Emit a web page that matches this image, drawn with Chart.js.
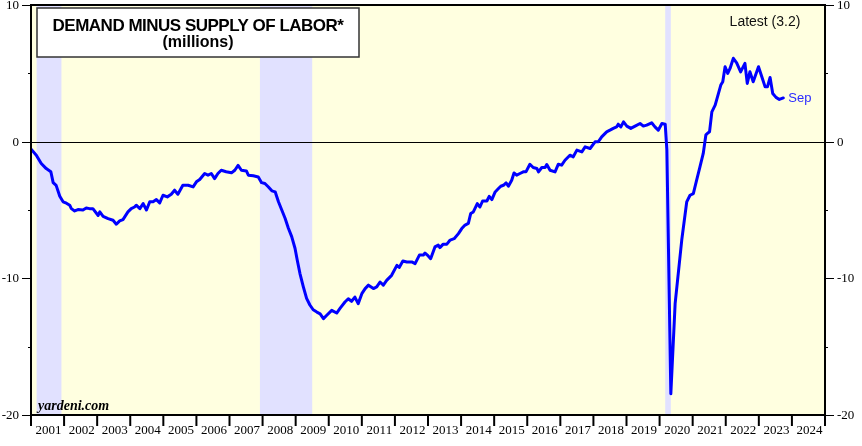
<!DOCTYPE html>
<html>
<head>
<meta charset="utf-8">
<script src="https://cdn.jsdelivr.net/npm/chart.js@4.4.0/dist/chart.umd.min.js"></script>
<style>
    html, body { margin: 0; padding: 0; background: #ffffff; }
    #wrap { width: 862px; height: 446px; position: relative; }
</style>
</head>
<body>
<div id="wrap"><canvas id="chart" width="862" height="446"></canvas></div>
<script>
// Demand minus supply of labor (millions)
const years = [
    2001.01, 2001.16, 2001.31, 2001.46, 2001.60, 2001.67, 2001.76, 2001.87, 2001.97,
    2002.07, 2002.17, 2002.22, 2002.32, 2002.42, 2002.57, 2002.67, 2002.77, 2002.87,
    2003.03, 2003.08, 2003.18, 2003.33, 2003.48, 2003.58, 2003.68, 2003.78, 2003.93,
    2004.03, 2004.13, 2004.18, 2004.29, 2004.39, 2004.49, 2004.59, 2004.69, 2004.79, 2004.89, 2004.99,
    2005.12, 2005.24, 2005.34, 2005.44, 2005.59, 2005.75, 2005.90,
    2006.00, 2006.10, 2006.15, 2006.25, 2006.35, 2006.45, 2006.55, 2006.65, 2006.75, 2006.90,
    2007.06, 2007.16, 2007.26, 2007.36, 2007.51, 2007.57, 2007.72, 2007.87, 2007.97,
    2008.07, 2008.17, 2008.28, 2008.38, 2008.48, 2008.58, 2008.68, 2008.78, 2008.88, 2008.98,
    2009.05, 2009.13, 2009.23, 2009.33, 2009.43, 2009.53, 2009.64, 2009.74, 2009.84, 2009.94,
    2010.09, 2010.24, 2010.34, 2010.49, 2010.59, 2010.69, 2010.79, 2010.89,
    2011.00, 2011.10, 2011.20, 2011.35, 2011.45, 2011.55, 2011.65, 2011.75, 2011.90,
    2012.06, 2012.13, 2012.24, 2012.36, 2012.51, 2012.61, 2012.74, 2012.86, 2012.91, 2012.98,
    2013.08, 2013.21, 2013.31, 2013.36, 2013.46, 2013.57, 2013.67, 2013.79, 2013.92,
    2014.02, 2014.12, 2014.22, 2014.29, 2014.37, 2014.49, 2014.57, 2014.65, 2014.78, 2014.85, 2014.93,
    2015.03, 2015.13, 2015.20, 2015.28, 2015.36, 2015.43, 2015.53, 2015.60, 2015.68, 2015.78, 2015.88, 2015.96,
    2016.08, 2016.18, 2016.29, 2016.34, 2016.44, 2016.54, 2016.59, 2016.69, 2016.84, 2016.94,
    2017.04, 2017.14, 2017.29, 2017.39, 2017.50, 2017.65, 2017.75, 2017.90,
    2018.05, 2018.15, 2018.25, 2018.40, 2018.50, 2018.60, 2018.70, 2018.75, 2018.83, 2018.91,
    2019.01, 2019.13, 2019.26, 2019.41, 2019.51, 2019.61, 2019.76, 2019.86, 2019.96,
    2020.07, 2020.17, 2020.22, 2020.34, 2020.47, 2020.67, 2020.82, 2020.92,
    2021.02, 2021.12, 2021.22, 2021.32, 2021.40, 2021.45, 2021.51, 2021.58, 2021.68, 2021.78, 2021.85, 2021.91, 2021.98,
    2022.06, 2022.13, 2022.23, 2022.33, 2022.45, 2022.58, 2022.65, 2022.73, 2022.83, 2022.99,
    2023.09, 2023.19, 2023.26, 2023.34, 2023.42, 2023.52, 2023.62, 2023.74
];

const laborGap = [
    -0.57, -0.99, -1.6, -1.97, -2.2, -3.0, -3.2, -4.0, -4.4,
    -4.5, -4.65, -4.9, -5.07, -4.97, -5.0, -4.85, -4.9, -4.9,
    -5.4, -5.14, -5.46, -5.63, -5.75, -6.04, -5.8, -5.7, -5.14,
    -4.9, -4.78, -4.65, -4.9, -4.53, -5.0, -4.4, -4.4, -4.24, -4.48, -3.92,
    -4.04, -3.85, -3.55, -3.85, -3.19, -3.19, -3.31,
    -2.94, -2.77, -2.62, -2.33, -2.45, -2.33, -2.7, -2.33, -2.09, -2.2,
    -2.28, -2.09, -1.74, -2.09, -2.14, -2.45, -2.5, -2.58, -3.0,
    -3.06, -3.3, -3.6, -3.67, -4.4, -5.0, -5.6, -6.33, -6.95, -7.8,
    -8.7, -9.65, -10.6, -11.47, -11.95, -12.3, -12.47, -12.6, -12.95, -12.7,
    -12.34, -12.54, -12.2, -11.73, -11.49, -11.68, -11.37, -11.85,
    -11.12, -10.75, -10.5, -10.75, -10.63, -10.27, -10.5, -10.15, -9.78,
    -9.05, -9.2, -8.73, -8.8, -8.8, -8.92, -8.3, -8.3, -8.15, -8.3,
    -8.56, -7.7, -7.57, -7.75, -7.5, -7.5, -7.2, -7.1, -6.73,
    -6.36, -6.1, -5.98, -5.26, -5.14, -4.53, -4.78, -4.34, -4.34, -4.0, -4.24,
    -3.68, -3.43, -3.26, -3.19, -3.02, -3.26, -2.82, -2.29, -2.45, -2.33, -2.21, -2.21,
    -1.65, -1.89, -1.96, -2.21, -1.89, -1.89, -1.67, -2.09, -2.21, -1.65,
    -1.72, -1.36, -0.99, -1.11, -0.62, -0.75, -0.38, -0.5,
    -0.01, 0.0, 0.35, 0.72, 0.84, 0.97, 1.08, 1.28, 1.08, 1.45,
    1.14, 0.97, 1.14, 1.33, 1.14, 1.21, 1.38, 1.08, 0.84,
    1.33, 1.28, -0.6, -18.45, -11.85, -7.2, -4.41, -3.92,
    -3.8, -2.82, -1.85, -0.86, 0.5, 0.62, 0.72, 2.18, 2.67, 3.53, 4.14, 4.38, 5.48,
    5.0, 5.36, 6.1, 5.77, 5.11, 5.73, 4.26, 5.11, 4.38, 5.48,
    4.75, 4.01, 4.01, 4.7, 3.53, 3.24, 3.09, 3.2
];

// recession spans (decimal years)
const recessions = [[2001.17, 2001.92], [2007.92, 2009.50], [2020.17, 2020.34]];

const yearLabels = [];
for (let yr = 2001; yr <= 2024; yr++) yearLabels.push(String(yr));

const majorTicks = [10, 0, -10, -20];
const minorTicks = [5, -5, -15];
const latestLabel = 'Latest (3.2)';
const lastMonth = 'Sep';

const points = years.map((yr, i) => ({ x: yr, y: laborGap[i] }));

const decor = {
    id: 'decor',
    beforeDatasetsDraw(chart) {
        const { ctx, chartArea: a, scales: { x, y } } = chart;
        ctx.save();
        ctx.fillStyle = '#ffffe0';
        ctx.fillRect(a.left, a.top, a.right - a.left, a.bottom - a.top);

        ctx.fillStyle = '#e1e1ff';
        recessions.forEach(([s, e]) => {
            const x0 = x.getPixelForValue(s);
            const x1 = x.getPixelForValue(e);
            ctx.fillRect(x0, a.top, x1 - x0, a.bottom - a.top);
        });

        // zero line
        const y0 = Math.round(y.getPixelForValue(0)) + 0.5;
        ctx.strokeStyle = '#000';
        ctx.lineWidth = 1;
        ctx.beginPath();
        ctx.moveTo(a.left, y0);
        ctx.lineTo(a.right, y0);
        ctx.stroke();
        ctx.restore();
    },
    afterDraw(chart) {
        const { ctx, chartArea: a, scales: { x, y } } = chart;
        ctx.save();

        // frame
        ctx.strokeStyle = '#000';
        ctx.lineWidth = 2;
        ctx.strokeRect(a.left, a.top, a.right - a.left, a.bottom - a.top);

        // y ticks both sides
        ctx.lineWidth = 1;
        ctx.font = '13px "Liberation Serif", serif';
        ctx.fillStyle = '#000';
        ctx.textBaseline = 'middle';
        majorTicks.forEach(v => {
            const py = Math.round(y.getPixelForValue(v)) + 0.5;
            ctx.beginPath();
            ctx.moveTo(a.left - 9, py); ctx.lineTo(a.left, py);
            ctx.moveTo(a.right, py); ctx.lineTo(a.right + 9, py);
            ctx.stroke();
            ctx.textAlign = 'right';
            ctx.fillText(String(v), a.left - 12, py);
            ctx.textAlign = 'left';
            ctx.fillText(String(v), a.right + 12, py);
        });
        minorTicks.forEach(v => {
            const py = Math.round(y.getPixelForValue(v)) + 0.5;
            ctx.beginPath();
            ctx.moveTo(a.left - 3, py); ctx.lineTo(a.left, py);
            ctx.moveTo(a.right, py); ctx.lineTo(a.right + 3, py);
            ctx.stroke();
        });

        // year ticks and labels
        ctx.lineWidth = 2;
        ctx.textAlign = 'center';
        ctx.textBaseline = 'alphabetic';
        for (let i = 0; i <= yearLabels.length; i++) {
            const px = x.getPixelForValue(2001 + i);
            ctx.beginPath();
            ctx.moveTo(px, a.bottom);
            ctx.lineTo(px, a.bottom + 11);
            ctx.stroke();
        }
        yearLabels.forEach((lbl, i) => {
            const yr = Number(lbl);
            const cx = (x.getPixelForValue(yr) + x.getPixelForValue(yr + 1)) / 2;
            ctx.fillText(lbl, cx + 1, a.bottom + 19);
        });

        // title box
        ctx.fillStyle = '#fff';
        ctx.fillRect(37, 8, 322, 49);
        ctx.strokeStyle = '#333';
        ctx.lineWidth = 1.5;
        ctx.strokeRect(37, 8, 322, 49);
        ctx.fillStyle = '#000';
        ctx.textAlign = 'center';
        ctx.font = 'bold 17px "Liberation Sans", Arial, sans-serif';
        if ('letterSpacing' in ctx) ctx.letterSpacing = '-0.5px';
        ctx.fillText('DEMAND MINUS SUPPLY OF LABOR*', 198, 31);
        if ('letterSpacing' in ctx) ctx.letterSpacing = '0px';
        ctx.font = 'bold 16px "Liberation Sans", Arial, sans-serif';
        ctx.fillText('(millions)', 198, 47);

        // latest value
        ctx.font = '14px "Liberation Sans", Arial, sans-serif';
        ctx.fillStyle = '#111';
        ctx.fillText(latestLabel, 765, 26);

        // last month label next to the final point
        const meta = chart.getDatasetMeta(0);
        const last = meta.data[meta.data.length - 1];
        ctx.fillStyle = '#2b2bff';
        ctx.textAlign = 'left';
        ctx.font = '13px "Liberation Sans", Arial, sans-serif';
        ctx.fillText(lastMonth, last.x + 5, last.y + 4);

        // source
        ctx.fillStyle = '#000';
        ctx.font = 'italic bold 14px "Liberation Serif", serif';
        ctx.fillText('yardeni.com', 38, 410);

        ctx.restore();
    }
};

new Chart(document.getElementById('chart'), {
    type: 'line',
    data: {
        datasets: [{
            label: 'Demand minus supply of labor',
            data: points,
            borderColor: '#0000ff',
            borderWidth: 3,
            borderJoinStyle: 'round',
            borderCapStyle: 'round',
            pointRadius: 0,
            tension: 0,
            fill: false
        }]
    },
    options: {
        responsive: false,
        animation: false,
        layout: { padding: { left: 31, right: 37, top: 5, bottom: 31 } },
        plugins: { legend: { display: false }, tooltip: { enabled: false } },
        scales: {
            x: { type: 'linear', min: 2001, max: 2025, display: false },
            y: { min: -20, max: 10, display: false }
        }
    },
    plugins: [decor]
});
</script>
</body>
</html>
